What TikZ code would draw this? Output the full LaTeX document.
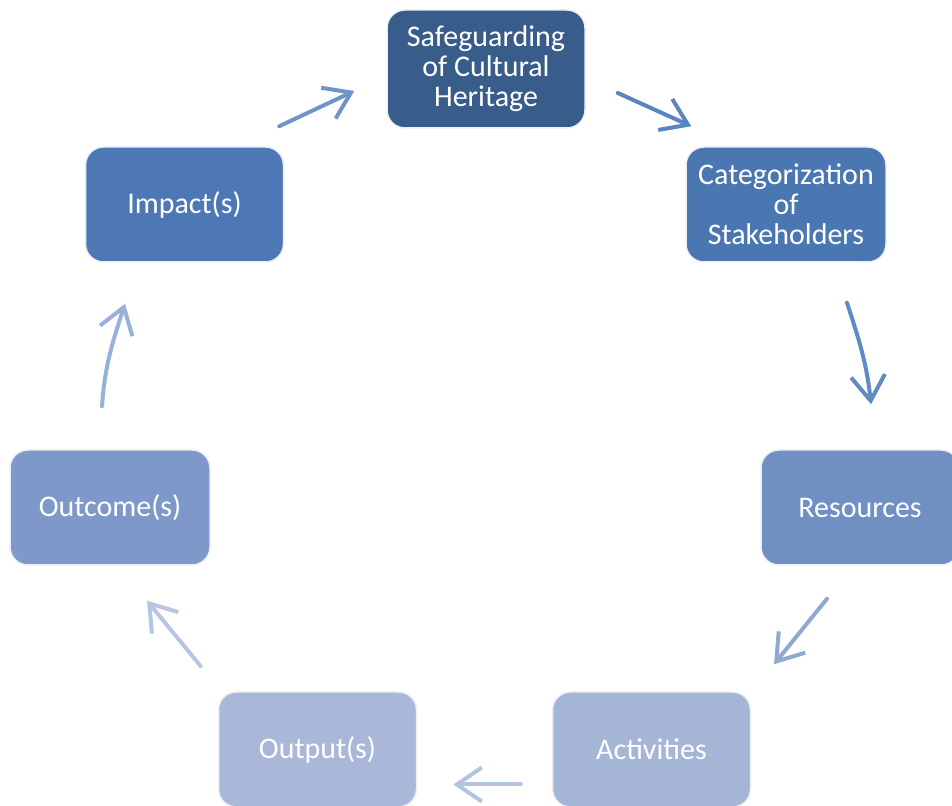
\documentclass[tikz,border=0pt]{standalone}
\usepackage{fontspec}
\setmainfont{Carlito}
\usetikzlibrary{arrows.meta}
\definecolor{cSafe}{HTML}{385D8A}
\definecolor{cCat}{HTML}{4A76B2}
\definecolor{cImp}{HTML}{4D78B5}
\definecolor{cRes}{HTML}{7090C4}
\definecolor{cOutc}{HTML}{7D98C9}
\definecolor{cAct}{HTML}{A5B5D6}
\definecolor{cOutp}{HTML}{A9B8D8}
\definecolor{aOne}{HTML}{6F95C8}
\definecolor{aTwo}{HTML}{5A85C0}
\definecolor{aThree}{HTML}{5F8AC4}
\definecolor{aFour}{HTML}{8FA9D3}
\definecolor{aFive}{HTML}{B3C3E0}
\definecolor{aSix}{HTML}{B6C6E2}
\definecolor{aSeven}{HTML}{97B1DA}
\definecolor{halo}{HTML}{ECEFF5}
\tikzset{
  box/.style={rectangle, rounded corners=18pt, draw=halo, line width=1.5pt,
    minimum width=198pt, minimum height=115pt, inner sep=0pt, align=center,
    text=white, font=\fontsize{30}{30}\selectfont},
  cyc/.style={line width=4pt, -{Straight Barb[length=25pt,width=34pt]}, line cap=round}
}
\begin{document}
\begin{tikzpicture}[x=1pt,y=1pt]
\useasboundingbox (0,0) rectangle (952,805);
\node[box, fill=cSafe, minimum height=118pt] (safe) at (486,736) {\raisebox{-2pt}{\parbox{190pt}{\centering Safeguarding\\of Cultural\\Heritage}}};
\node[box, fill=cCat, minimum width=200pt] (cat) at (786,600.5) {Categorization\\of\\Stakeholders};
\node[box, fill=cRes] (res) at (860,297.5) {Resources};
\node[box, fill=cAct] (act) at (651.5,55.5) {Activities};
\node[box, fill=cOutp] (outp) at (317.5,55.5) {Output(s)};
\node[box, fill=cOutc, minimum width=200pt] (outc) at (110,297.5) {Outcome(s)};
\node[box, fill=cImp] (imp) at (184.5,600.5) {Impact(s)};
% connectors
\draw[cyc, draw=aOne] ([shift={(-5,20)}]imp.north east) -- ([shift={(-32,-22)}]safe.west);
\draw[cyc, draw=aTwo] ([shift={(32,-24)}]safe.east) -- ([shift={(6,20)}]cat.north west);
\draw[cyc, draw=aThree] ([shift={(61,-40)}]cat.south) to[out=-72,in=96] ([shift={(11,45)}]res.north);
\draw[cyc, draw=aFour] ([shift={(-33,-33)}]res.south) -- ([shift={(122.5,27)}]act.north);
\draw[cyc, draw=aFive] ([shift={(-31,-35)}]act.west) -- ([shift={(36,-35)}]outp.east);
\draw[cyc, draw=aSix] ([shift={(-17,25)}]outp.north west) -- ([shift={(37,-35)}]outc.south);
\draw[cyc, draw=aSeven] ([shift={(-8,43)}]outc.north) to[out=86,in=-108] ([shift={(-59.5,-41)}]imp.south);
\end{tikzpicture}
\end{document}
